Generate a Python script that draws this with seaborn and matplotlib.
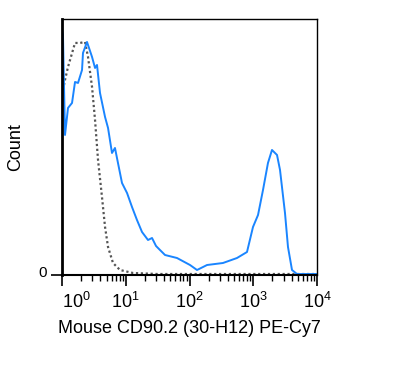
import numpy as np
import pandas as pd
import matplotlib
matplotlib.use("Agg")
import matplotlib.pyplot as plt
import matplotlib.transforms as mtransforms
from matplotlib.ticker import LogLocator, NullFormatter, FixedLocator
import seaborn as sns

# stained sample (CD90.2 PE-Cy7), x as log10 of intensity, y as count
stained_log = [0.0, 0.015, 0.047, 0.094, 0.157, 0.204, 0.251, 0.314, 0.329, 0.392,
               0.471, 0.518, 0.549, 0.596, 0.675, 0.722, 0.784, 0.831, 0.878, 0.941,
               1.020, 1.098, 1.176, 1.255, 1.349, 1.412, 1.475, 1.537, 1.616, 1.804,
               2.008, 2.118, 2.275, 2.525, 2.745, 2.902, 2.996, 3.075, 3.153, 3.231,
               3.294, 3.373, 3.420, 3.498, 3.545, 3.608, 3.686, 4.0]
stained_count = [246, 240, 140, 167, 172, 193, 192, 205, 222, 233,
                 218, 207, 210, 182, 158, 147, 122, 127, 112, 92,
                 82, 68, 55, 43, 35, 37, 29, 25, 20, 17,
                 10, 5, 10, 12, 17, 23, 48, 60, 85, 112,
                 125, 120, 105, 62, 28, 5, 1, 1]

# unstained control
control_log = [0.016, 0.047, 0.094, 0.204, 0.282, 0.361, 0.408, 0.471, 0.518, 0.565,
               0.627, 0.675, 0.722, 0.800, 0.910, 1.114, 1.5, 4.0]
control_count = [185, 195, 208, 232, 232, 233, 218, 188, 155, 115,
                 78, 48, 28, 12, 5, 2, 1, 1]

xlabel = "Mouse CD90.2 (30-H12) PE-Cy7"
ylabel = "Count"

sns.set_style("white")
plt.rcParams["font.family"] = ["Liberation Sans", "DejaVu Sans"]
plt.rcParams["mathtext.fontset"] = "custom"
plt.rcParams["mathtext.rm"] = "Liberation Sans"
plt.rcParams["mathtext.it"] = "Liberation Sans"
plt.rcParams["text.color"] = "black"
plt.rcParams["axes.labelcolor"] = "black"
plt.rcParams["xtick.color"] = "black"
plt.rcParams["ytick.color"] = "black"

stained = pd.DataFrame({"x": 10 ** np.array(stained_log), "y": stained_count})
control = pd.DataFrame({"x": 10 ** np.array(control_log), "y": control_count})

fig = plt.figure(figsize=(3.95, 3.76), dpi=100)
ax = fig.add_axes([0.157, 0.2686, 0.6455, 0.681])

sns.lineplot(data=control, x="x", y="y", ax=ax, color="#555555", lw=1.6,
             linestyle=(0, (1, 1.2)))
sns.lineplot(data=stained, x="x", y="y", ax=ax, color="#1a85ff", lw=1.4)

ax.set_xscale("log")
ax.set_xlim(1, 1e4)
ax.set_ylim(0, 256)

ax.xaxis.set_major_locator(FixedLocator([1, 10, 100, 1000, 10000]))
ax.set_xticklabels([r"$10^{%d}$" % i for i in range(5)], fontsize=13)
ax.xaxis.set_minor_locator(LogLocator(base=10, subs=np.arange(2, 10), numticks=20))
ax.xaxis.set_minor_formatter(NullFormatter())
ax.set_yticks([0])
ax.set_yticklabels(["0"], fontsize=11)

ax.tick_params(axis="x", which="major", direction="out", length=8, width=1.2,
               color="black", pad=4, bottom=True)
ax.tick_params(axis="x", which="minor", direction="out", length=4, width=1,
               color="black", bottom=True)
ax.tick_params(axis="y", direction="out", length=8, width=1.2, color="black",
               pad=3, left=True)

# first decade label sits a bit to the right of its tick
lbl = ax.get_xticklabels()[0]
lbl.set_transform(lbl.get_transform() +
                  mtransforms.ScaledTranslation(14 / 100, 0, fig.dpi_scale_trans))
ylbl = ax.get_yticklabels()[0]
ylbl.set_transform(ylbl.get_transform() +
                   mtransforms.ScaledTranslation(0, 4 / 100, fig.dpi_scale_trans))

for side in ["top", "right"]:
    ax.spines[side].set_color("black")
    ax.spines[side].set_linewidth(1.0)
ax.spines["left"].set_linewidth(2.0)
ax.spines["bottom"].set_linewidth(1.5)
ax.spines["left"].set_color("black")
ax.spines["bottom"].set_color("black")

ax.set_xlabel(xlabel, fontsize=13)
ax.set_ylabel(ylabel, fontsize=13)
ax.xaxis.set_label_coords(0.5, -0.175)
ax.yaxis.set_label_coords(-0.147, 0.5)

fig.savefig("out.png", dpi=100)
